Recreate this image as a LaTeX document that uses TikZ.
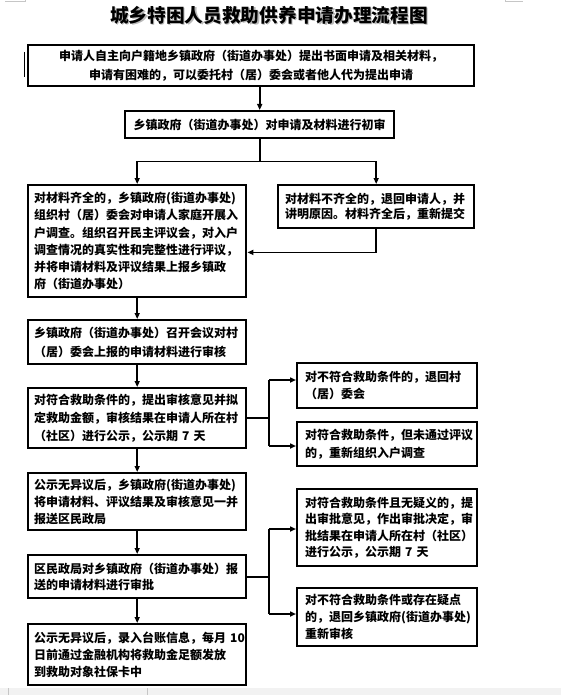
\documentclass[tikz,border=0pt]{standalone}
\usepackage{fontspec}
\newfontfamily\cjk{Noto Sans CJK SC}
\XeTeXlinebreaklocale "zh"
\XeTeXlinebreakskip=0pt
\usetikzlibrary{arrows.meta}
\newcommand\jl[1]{\makebox[\hsize][s]{\XeTeXlinebreakskip=0pt plus 3pt\relax #1}}
\tikzset{
  box/.style={draw, line width=2.4pt, anchor=north west, inner ysep=2pt,
    font=\cjk\bfseries\fontsize{12}{17.2}\selectfont},
  lbox/.style={box, align=left, text width=206pt, inner xsep=6pt},
  rbox/.style={box, align=left, text width=164pt, inner xsep=8pt},
  conn/.style={line width=1.6pt},
  arr/.style={conn, -{Triangle[length=6pt,width=5pt]}},
  pagemark/.style={line width=0.8pt, draw=gray!45},
}
\begin{document}
\begin{tikzpicture}[x=1pt,y=-1pt]
\useasboundingbox (0,0) rectangle (561,695);
% page artefacts
\fill[gray!10] (0,688) rectangle (561,695);
\draw[pagemark] (8,688) -- (8,695);
\draw[pagemark] (147,688) -- (147,695);
\draw[pagemark] (5,1.5) -- (25,1.5) -- (25,-1);
\draw[pagemark] (505,-1) -- (505,1.5) -- (523,1.5);
\draw[line width=0.8pt] (24,52) -- (24,77);
% title
\node[font=\cjk\bfseries\fontsize{18.7}{20}\selectfont, text=gray!55] (titleshadow) at (270.3,16.3) {城乡特困人员救助供养申请办理流程图};
\node[font=\cjk\bfseries\fontsize{18.7}{20}\selectfont] (title) at (269,15) {城乡特困人员救助供养申请办理流程图};
% boxes
\node[box, align=center, text width=430pt, inner xsep=8pt, minimum height=41pt,
  font=\cjk\bfseries\fontsize{12}{18.3}\selectfont] (b1) at (27,44)
  {申请人自主向户籍地乡镇政府（街道办事处）提出书面申请及相关材料，\\申请有困难的，可以委托村（居）委会或者他人代为提出申请};
\node[box, align=center, text width=255pt, inner xsep=7pt, minimum height=27pt] (b2) at (124,110)
  {乡镇政府（街道办事处）对申请及材料进行初审};
\node[lbox, minimum height=112pt] (b3) at (27,184)
  {\jl{对材料齐全的，乡镇政府(街道办事处)}\\\jl{组织村（居）委会对申请人家庭开展入}\\\jl{户调查。组织召开民主评议会，对入户}\\\jl{调查情况的真实性和完整性进行评议，}\\\jl{并将申请材料及评议结果上报乡镇政}\\府（街道办事处）};
\node[box, align=left, text width=182pt, inner xsep=7pt, minimum height=43pt,
  font=\cjk\bfseries\fontsize{12}{15}\selectfont] (b3b) at (277,184)
  {\jl{对材料不齐全的，退回申请人，并}\\讲明原因。材料齐全后，重新提交};
\node[lbox, minimum height=44pt, font=\cjk\bfseries\fontsize{12}{18.5}\selectfont] (b4) at (27,319)
  {\jl{乡镇政府（街道办事处）召开会议对村}\\（居）委会上报的申请材料进行审核};
\node[lbox, minimum height=60pt, font=\cjk\bfseries\fontsize{12}{18}\selectfont] (b5) at (27,387)
  {\jl{对符合救助条件的，提出审核意见并拟}\\\jl{定救助金额，审核结果在申请人所在村}\\（社区）进行公示，公示期 7 天};
\node[rbox, minimum height=45pt, font=\cjk\bfseries\fontsize{12}{17}\selectfont] (b6a) at (296,362)
  {\jl{对不符合救助条件的，退回村}\\（居）委会};
\node[rbox, minimum height=44pt, font=\cjk\bfseries\fontsize{12}{17.5}\selectfont] (b6b) at (296,421)
  {\jl{对符合救助条件，但未通过评议}\\的，重新组织入户调查};
\node[lbox, minimum height=57pt, font=\cjk\bfseries\fontsize{12}{17}\selectfont] (b7) at (27,472)
  {\jl{公示无异议后，乡镇政府(街道办事处)}\\\jl{将申请材料、评议结果及审核意见一并}\\报送区民政局};
\node[lbox, minimum height=43pt, font=\cjk\bfseries\fontsize{12}{16.5}\selectfont] (b8) at (27,554)
  {\jl{区民政局对乡镇政府（街道办事处）报}\\送的申请材料进行审批};
\node[rbox, minimum height=77pt, font=\cjk\bfseries\fontsize{12}{16.6}\selectfont] (b9a) at (296,488)
  {\jl{对符合救助条件且无疑义的，提}\\\jl{出审批意见，作出审批决定，审}\\\jl{批结果在申请人所在村（社区）}\\进行公示，公示期 7 天};
\node[rbox, minimum height=58pt, font=\cjk\bfseries\fontsize{12}{17}\selectfont] (b9b) at (296,587)
  {\jl{对不符合救助条件或存在疑点}\\\jl{的，退回乡镇政府(街道办事处)}\\重新审核};
\node[lbox, minimum height=61pt, font=\cjk\bfseries\fontsize{12}{17}\selectfont] (b10) at (27,623)
  {\jl{公示无异议后，录入台账信息，每月 10}\\\jl{日前通过金融机构将救助金足额发放}\\到救助对象社保卡中};
% connectors
\draw[arr] (b2.north |- b1.south) -- (b2.north);
\draw[conn] (b2.south) -- ++(0,22) coordinate (s1);
\draw[arr] (s1) -| (b3.north);
\draw[arr] (s1) -| (b3b.north);
\path (b3b.south) ++(0,23) coordinate (j1);
\draw[arr] (b3b.south) -- (j1) -- (j1 -| b3.east);
\draw[arr] (b3.south) -- (b4.north);
\draw[arr] (b4.south) -- (b5.north);
\draw[arr] (b5.south) -- (b7.north);
\draw[arr] (b7.south) -- (b8.north);
\draw[arr] (b8.south) -- (b10.north);
% branch from b5
\coordinate (k1t) at (269,380);
\coordinate (k1b) at (269,446);
\draw[conn] (k1t) -- (k1b);
\draw[conn] (b5.east) -- (b5.east -| k1t);
\draw[arr] (k1t) -- (k1t -| b6a.west);
\draw[arr] (k1b) -- (k1b -| b6b.west);
% branch from b8
\coordinate (k2t) at (269,529);
\coordinate (k2b) at (269,614);
\draw[conn] (k2t) -- (k2b);
\draw[conn] (b8.east) -- (b8.east -| k2t);
\draw[arr] (k2t) -- (k2t -| b9a.west);
\draw[arr] (k2b) -- (k2b -| b9b.west);
\end{tikzpicture}
\end{document}
